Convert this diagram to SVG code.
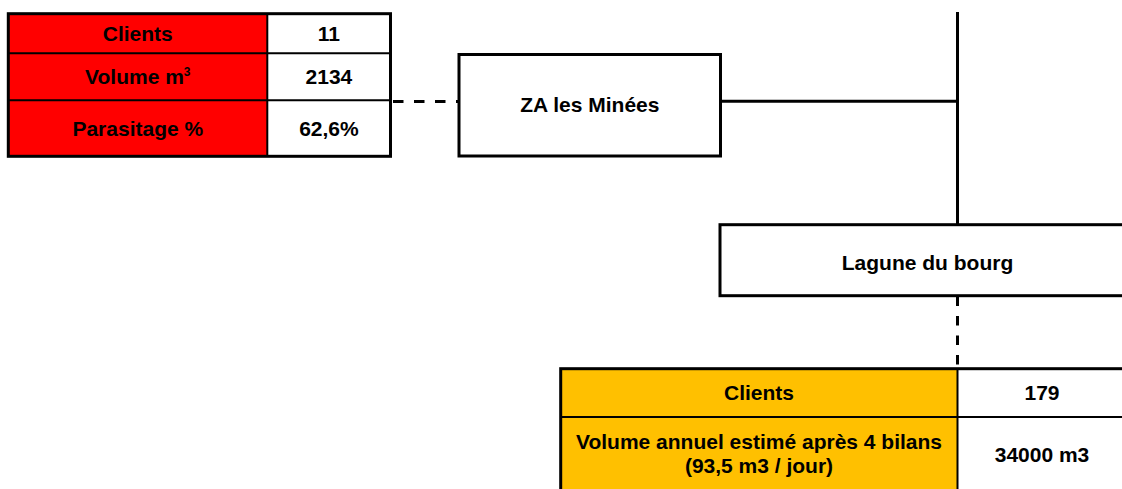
<svg xmlns="http://www.w3.org/2000/svg" width="1122" height="489" viewBox="0 0 1122 489">
  <style>
    .t { font-family: "Liberation Sans", Arial, sans-serif; font-weight: bold; font-size: 21px; fill: #000; text-anchor: middle; }
    .sup { font-size: 12px; }
    .outer { fill: none; stroke: #000; stroke-width: 3; }
    .inner { fill: none; stroke: #000; stroke-width: 2; }
    .box { fill: #fff; stroke: #000; stroke-width: 3; }
    .conn { fill: none; stroke: #000; stroke-width: 3; }
    .dash { stroke-dasharray: 10.5 10.5; }
    .dashv { stroke-dasharray: 9.5 10; }
  </style>

  <g id="connectors">
    <path class="conn dash" d="M393 101.5 H458"/>
    <path class="conn" d="M720.5 101.3 H957.5"/>
    <path class="conn" d="M957.5 12 V224.7"/>
    <path class="conn dashv" d="M957.5 296.5 V368"/>
  </g>

  <g id="table-za-minees">
    <rect x="8.3" y="13.7" width="259" height="142.6" fill="#FF0000"/>
    <rect x="267.3" y="13.7" width="123.2" height="142.6" fill="#FFFFFF"/>
    <path class="inner" d="M8.3 53.3 H390.5 M8.3 100.3 H390.5 M267.3 13.7 V156.3"/>
    <rect class="outer" x="8.3" y="13.7" width="382.2" height="142.6"/>
    <text class="t" x="137.8" y="41">Clients</text>
    <text class="t" x="328.9" y="41">11</text>
    <text class="t" x="137.8" y="84">Volume m<tspan class="sup" dy="-8">3</tspan></text>
    <text class="t" x="328.9" y="84">2134</text>
    <text class="t" x="137.8" y="135.5">Parasitage %</text>
    <text class="t" x="328.9" y="135.5">62,6%</text>
  </g>

  <g id="node-za-minees">
    <rect class="box" x="459" y="54.5" width="261.5" height="101.5"/>
    <text class="t" x="589.8" y="112">ZA les Minées</text>
  </g>

  <g id="node-lagune">
    <rect class="box" x="720" y="224.7" width="420" height="71"/>
    <text class="t" x="927.5" y="270">Lagune du bourg</text>
  </g>

  <g id="table-lagune">
    <rect x="560.7" y="368.7" width="396.8" height="140" fill="#FFC000"/>
    <rect x="957.5" y="368.7" width="200" height="140" fill="#FFFFFF"/>
    <path class="inner" d="M560.7 417 H1140 M957.5 368.7 V510"/>
    <rect class="outer" x="560.7" y="368.7" width="580" height="140"/>
    <text class="t" x="759" y="400">Clients</text>
    <text class="t" x="1042" y="400">179</text>
    <text class="t" x="759" y="449">Volume annuel estimé après 4 bilans</text>
    <text class="t" x="759" y="473">(93,5 m3 / jour)</text>
    <text class="t" x="1042" y="462">34000 m3</text>
  </g>
</svg>
